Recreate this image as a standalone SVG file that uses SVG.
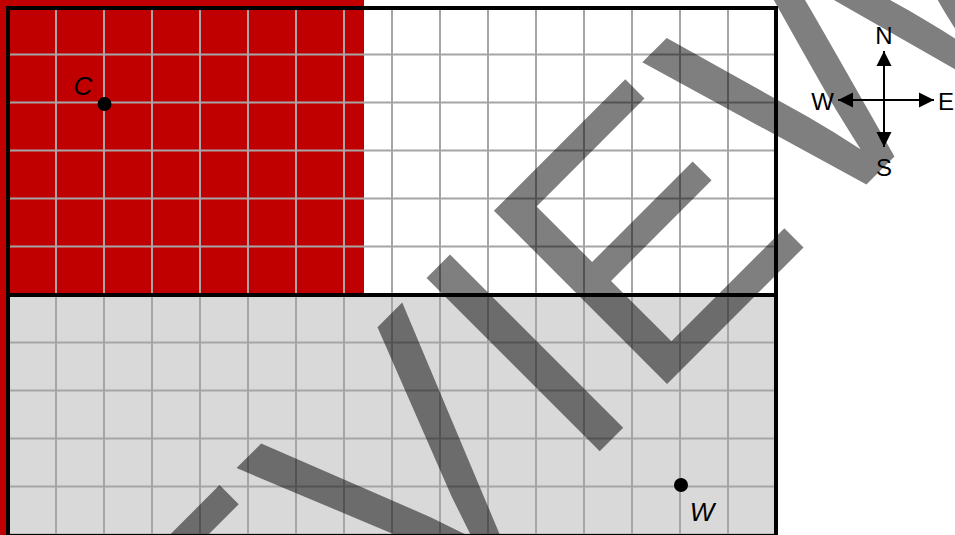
<svg xmlns="http://www.w3.org/2000/svg" width="955" height="535" viewBox="0 0 955 535">
  <style>
    .grid line { stroke: #a6a6a6; stroke-width: 2; }
    .lbl { font-family: "Liberation Sans", Arial, sans-serif; fill: #000; }
    .it { font-style: italic; font-size: 26px; }
    .cp { font-size: 24px; }
    .arm { stroke: #000; stroke-width: 2; fill: none; }
    .wm { font-family: "Liberation Sans", Arial, sans-serif; font-size: 356px; fill: #000; fill-opacity: 0.5; }
  </style>
  <defs>
    <marker id="ah" markerUnits="userSpaceOnUse" markerWidth="16" markerHeight="16" viewBox="0 0 16 16" refX="15" refY="8" orient="auto">
      <path d="M0,0.5 L15,8 L0,15.5 Z" fill="#000"/>
    </marker>
  </defs>
  <rect x="0" y="0" width="955" height="535" fill="#ffffff"/>
  <g id="regions">
    <rect x="0" y="0" width="364" height="295" fill="#c00000"/>
    <rect x="0" y="0" width="8" height="535" fill="#c00000"/>
    <rect x="8" y="295" width="768" height="240" fill="#d9d9d9"/>
  </g>
  <g id="grid" class="grid">
    <line x1="56" y1="8" x2="56" y2="535"/>
    <line x1="104" y1="8" x2="104" y2="535"/>
    <line x1="152" y1="8" x2="152" y2="535"/>
    <line x1="200" y1="8" x2="200" y2="535"/>
    <line x1="248" y1="8" x2="248" y2="535"/>
    <line x1="296" y1="8" x2="296" y2="535"/>
    <line x1="344" y1="8" x2="344" y2="535"/>
    <line x1="392" y1="8" x2="392" y2="535"/>
    <line x1="440" y1="8" x2="440" y2="535"/>
    <line x1="488" y1="8" x2="488" y2="535"/>
    <line x1="536" y1="8" x2="536" y2="535"/>
    <line x1="584" y1="8" x2="584" y2="535"/>
    <line x1="632" y1="8" x2="632" y2="535"/>
    <line x1="680" y1="8" x2="680" y2="535"/>
    <line x1="728" y1="8" x2="728" y2="535"/>
    <line x1="8" y1="54.5" x2="776" y2="54.5"/>
    <line x1="8" y1="102.5" x2="776" y2="102.5"/>
    <line x1="8" y1="150.5" x2="776" y2="150.5"/>
    <line x1="8" y1="198.5" x2="776" y2="198.5"/>
    <line x1="8" y1="246.5" x2="776" y2="246.5"/>
    <line x1="8" y1="342.5" x2="776" y2="342.5"/>
    <line x1="8" y1="390.5" x2="776" y2="390.5"/>
    <line x1="8" y1="438.5" x2="776" y2="438.5"/>
    <line x1="8" y1="486.5" x2="776" y2="486.5"/>
    <line x1="8" y1="534.5" x2="776" y2="534.5"/>
  </g>
  <g id="border">
    <rect x="8" y="8" width="768" height="528" fill="none" stroke="#000" stroke-width="4"/>
    <line x1="8" y1="295" x2="776" y2="295" stroke="#000" stroke-width="4"/>
  </g>
  <g id="node-C">
    <circle cx="104.5" cy="104" r="7" fill="#000"/>
    <text class="lbl it" x="83" y="95" text-anchor="middle">C</text>
  </g>
  <g id="node-W">
    <circle cx="681" cy="485" r="7" fill="#000"/>
    <text class="lbl it" x="702" y="521" text-anchor="middle">W</text>
  </g>
  <g id="compass">
    <text class="lbl cp" x="884" y="44" text-anchor="middle">N</text>
    <text class="lbl cp" x="884" y="176" text-anchor="middle">S</text>
    <text class="lbl cp" x="834" y="110" text-anchor="end">W</text>
    <text class="lbl cp" x="938" y="110" text-anchor="start">E</text>
  </g>
  <g id="connectors">
    <line class="arm" x1="884" y1="100" x2="884" y2="51" marker-end="url(#ah)"/>
    <line class="arm" x1="884" y1="100" x2="884" y2="147" marker-end="url(#ah)"/>
    <line class="arm" x1="884" y1="100" x2="934" y2="100" marker-end="url(#ah)"/>
    <line class="arm" x1="884" y1="100" x2="838" y2="100" marker-end="url(#ah)"/>
  </g>
  <g id="watermark">
    <text class="wm" transform="translate(-109,1160) rotate(-45)">PREVIEW</text>
  </g>
</svg>
